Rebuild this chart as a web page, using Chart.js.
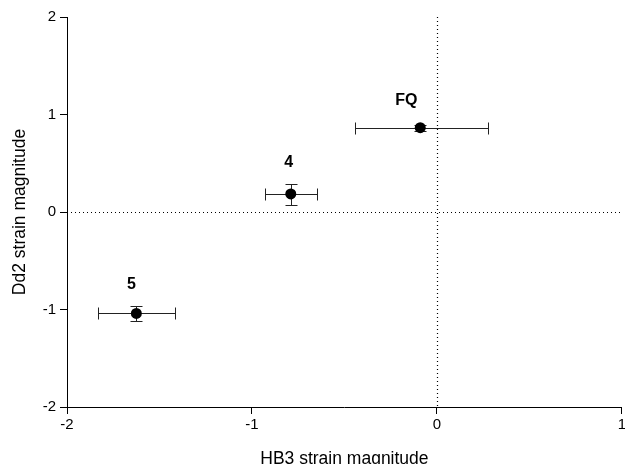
<!DOCTYPE html>
<html lang='en'>
  <head>
    <meta charset='UTF-8'>
    <title>HB3 vs Dd2 strain magnitude</title>
    <script src='https://cdn.jsdelivr.net/npm/chart.js@4.4.0/dist/chart.umd.min.js'></script>
    <style>
      html, body { margin: 0; padding: 0; background: #fff; overflow: hidden; }
      /* a bit wider than the window so the last x label can hang off the edge */
      #wrap { width: 628px; height: 464px; }
    </style>
  </head>
  <body>
    <div id='wrap'><canvas id='grafico'></canvas></div>
    <script>
      // strains and their magnitudes
      const strainLabels = ['5', '4', 'FQ'];
      const hb3      = [-1.625, -0.79, -0.09];
      const dd2      = [-1.04, 0.185, 0.865];
      const hb3Low   = [-1.83, -0.93, -0.445];
      const hb3High  = [-1.418, -0.647, 0.276];
      const dd2Low   = [-1.115, 0.072, 0.835];
      const dd2High  = [-0.964, 0.29, 0.895];

      const xTicks = [-2, -1, 0, 1];
      const yTicks = [-2, -1, 0, 1, 2];

      const fontFamily = "'Liberation Sans', Arial, sans-serif";

      // label offsets in pixels, relative to the point
      const labelShift = [[-5, -29], [-2, -31], [-14, -27]];

      let points = hb3.map((x, i) => ({ x: x, y: dd2[i] }));

      // dotted zero lines + error bars + labels
      const extras = {
        id: 'extras',
        beforeDatasetsDraw(chart) {
          let c = chart.ctx, xs = chart.scales.x, ys = chart.scales.y, a = chart.chartArea;
          c.save();
          c.strokeStyle = '#000';
          c.lineWidth = 1.2;
          c.setLineDash([1, 3]);
          let x0 = Math.round(xs.getPixelForValue(0)) + 0.5;
          let y0 = Math.round(ys.getPixelForValue(0)) + 0.5;
          c.beginPath();
          c.moveTo(x0, a.top); c.lineTo(x0, a.bottom);
          c.moveTo(a.left, y0); c.lineTo(a.right, y0);
          c.stroke();
          c.setLineDash([]);

          c.strokeStyle = '#222';
          c.lineWidth = 1;
          let cap = 6;
          for (let i = 0; i < hb3.length; i++) {
            let px = xs.getPixelForValue(hb3[i]);
            let py = Math.round(ys.getPixelForValue(dd2[i])) + 0.5;
            let xl = Math.round(xs.getPixelForValue(hb3Low[i])) + 0.5;
            let xh = Math.round(xs.getPixelForValue(hb3High[i])) + 0.5;
            let yl = Math.round(ys.getPixelForValue(dd2Low[i])) + 0.5;
            let yh = Math.round(ys.getPixelForValue(dd2High[i])) + 0.5;
            let pxr = Math.round(px) + 0.5;
            c.beginPath();
            c.moveTo(xl, py); c.lineTo(xh, py);
            c.moveTo(xl, py - cap); c.lineTo(xl, py + cap);
            c.moveTo(xh, py - cap); c.lineTo(xh, py + cap);
            c.moveTo(pxr, yl); c.lineTo(pxr, yh);
            c.moveTo(pxr - cap, yl); c.lineTo(pxr + cap, yl);
            c.moveTo(pxr - cap, yh); c.lineTo(pxr + cap, yh);
            c.stroke();
          }
          c.restore();
        },
        afterDatasetsDraw(chart) {
          let c = chart.ctx, xs = chart.scales.x, ys = chart.scales.y;
          c.save();
          c.fillStyle = '#000';
          c.font = 'bold 16px ' + fontFamily;
          c.textAlign = 'center';
          c.textBaseline = 'middle';
          for (let i = 0; i < strainLabels.length; i++) {
            c.fillText(strainLabels[i],
              xs.getPixelForValue(hb3[i]) + labelShift[i][0],
              ys.getPixelForValue(dd2[i]) + labelShift[i][1]);
          }
          c.restore();
        }
      };

      let ctx = document.getElementById('grafico').getContext('2d');
      let myChart = new Chart(ctx, {
        type: 'scatter',
        data: {
          datasets: [{
            data: points,
            pointRadius: 5.5,
            pointHoverRadius: 5.5,
            backgroundColor: '#000',
            borderColor: '#000',
            borderWidth: 0,
          }],
        },
        options: {
          responsive: true,
          maintainAspectRatio: false,
          animation: false,
          events: [],
          layout: { padding: { top: 17, right: 2, left: 0, bottom: 0 } },
          plugins: {
            legend: { display: false },
            tooltip: { enabled: false },
          },
          scales: {
            x: {
              type: 'linear',
              min: -2, max: 1,
              afterBuildTicks: s => { s.ticks = xTicks.map(v => ({ value: v })); },
              afterFit: s => { s.height = 57; },
              ticks: { color: '#000', font: { family: fontFamily, size: 15 }, padding: 2 },
              grid: { drawOnChartArea: false, drawTicks: true, tickLength: 7, color: '#000' },
              border: { display: true, color: '#000', width: 1 },
              title: { display: true, text: 'HB3 strain magnitude', color: '#000',
                       font: { family: fontFamily, size: 17.5 }, padding: { top: 0, bottom: -6 } },
            },
            y: {
              type: 'linear',
              min: -2, max: 2,
              afterBuildTicks: s => { s.ticks = yTicks.map(v => ({ value: v })); },
              afterFit: s => { s.width = 67; },
              ticks: { color: '#000', font: { family: fontFamily, size: 15 }, padding: 4 },
              grid: { drawOnChartArea: false, drawTicks: true, tickLength: 7, color: '#000' },
              border: { display: true, color: '#000', width: 1 },
              title: { display: true, text: 'Dd2 strain magnitude', color: '#000',
                       font: { family: fontFamily, size: 17.5 }, padding: { top: 10, bottom: 0 } },
            },
          },
        },
        plugins: [extras],
      });
    </script>
  </body>
</html>
